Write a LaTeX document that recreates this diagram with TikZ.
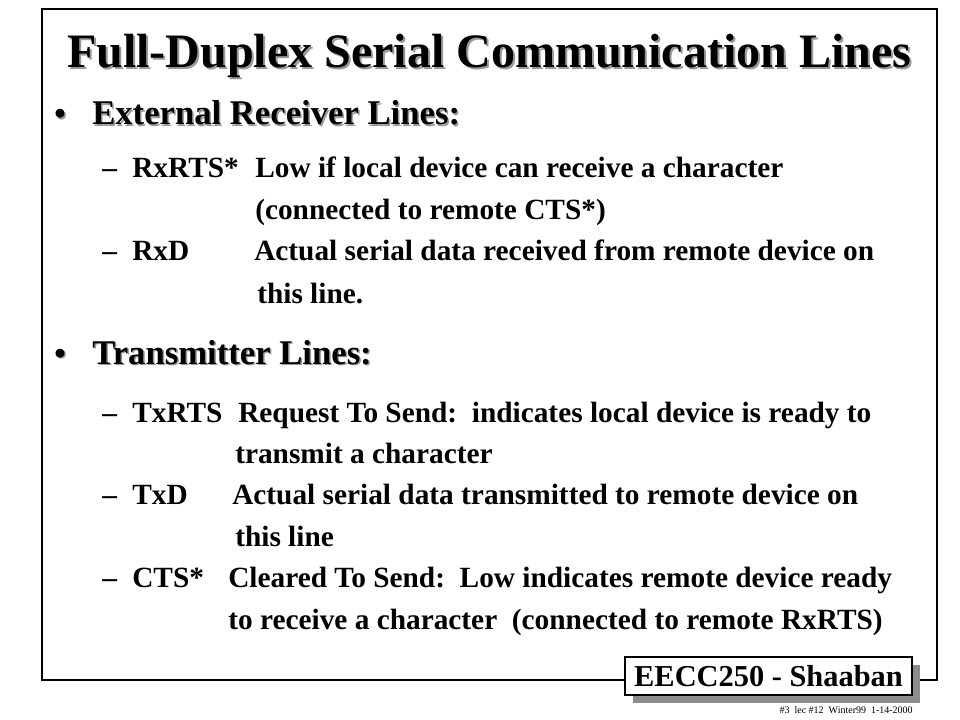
\documentclass[tikz,border=0pt]{standalone}
\usepackage{fontspec}
\setmainfont{Liberation Serif}
\usepackage{tikz}
\usetikzlibrary{positioning}
\tikzset{
    line text/.style={
        anchor=base west,
        inner sep=0pt,
        font=\bfseries\fontsize{22}{25}\selectfont
    },
    head text/.style={
        line text,
        font=\bfseries\fontsize{26}{30}\selectfont
    },
    dot text/.style={
        line text,
        font=\bfseries\fontsize{24.5}{28}\selectfont
    },
    shade text/.style={
        text=black!40
    },
    frame/.style={
        draw,
        line width=2.2pt
    },
    tag box/.style={
        draw,
        fill=white,
        line width=0.9pt,
        minimum width=287*0.75pt,
        minimum height=38*0.75pt,
        inner sep=0pt,
        font=\bfseries\fontsize{22.8}{26}\selectfont
    }
}
\begin{document}
\begin{tikzpicture}[x=0.75pt,y=-0.75pt]
    \useasboundingbox (0,0) rectangle (960,720);
    \draw[frame] (42,9) rectangle (937,680);
    % title with its shadow
    \node[line text,shade text,font=\bfseries\fontsize{36}{40}\selectfont] (titleshade) at (69,70) {Full-Duplex Serial Communication Lines};
    \node[line text,font=\bfseries\fontsize{36}{40}\selectfont] (title) at (67,68) {Full-Duplex Serial Communication Lines};
    % the two bullets
    \foreach \n/\y/\t in {recv/125/{External Receiver Lines:},xmit/364/{Transmitter Lines:}}{
        \node[dot text,shade text] (\n-dotshade) at (55.5,\y+1.5) {\textbullet};
        \node[dot text] (\n-dot) at (54,\y) {\textbullet};
        \node[head text,shade text] (\n-shade) at (93.5,\y+1.5) {\t};
        \node[head text] (\n) at (92,\y) {\t};
    }
    % one line per signal
    \foreach \n/\y/\key/\x/\t in {
        rxrts/178/RxRTS*/255/{Low if local device can receive a character},
        rxd/261/RxD/254/{Actual serial data received from remote device on},
        txrts/422/TxRTS/238/{Request To Send:\ \ indicates local device is ready to},
        txd/504/TxD/232/{Actual serial data transmitted to remote device on},
        cts/587/CTS*/228/{Cleared To Send:\ \ Low indicates remote device ready}}{
        \node[line text] (\n-dash) at (102,\y) {--};
        \node[line text] (\n-key) at (132,\y) {\key};
        \node[line text] (\n) at (\x,\y) {\t};
    }
    % second lines
    \foreach \n/\y/\x/\t in {
        rxrts2/220/255/{(connected to remote CTS*)},
        rxd2/303/257/{this line.},
        txrts2/463/235/{transmit a character},
        txd2/546/235/{this line},
        cts2/629/228/{to receive a character\ \ (connected to remote RxRTS)}}
        \node[line text] (\n) at (\x,\y) {\t};
    % footer tag
    \fill[black!45] (633,665) rectangle (920,703);
    \node[tag box] (tag) at (768.5,676) {EECC250 - Shaaban};
    \node[anchor=base east,inner sep=0pt,font=\fontsize{7.5}{9}\selectfont] (slideno) at (913,713) {\#3\ \ lec \#12\ \ Winter99\ \ 1-14-2000};
\end{tikzpicture}
\end{document}
